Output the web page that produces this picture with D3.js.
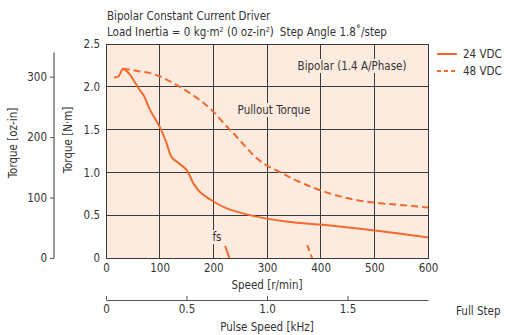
<!DOCTYPE html>
<html>
<head>
<meta charset="utf-8">
<script src="https://cdn.jsdelivr.net/npm/d3@7"></script>
<style>
  body { margin: 0; background: #fff; }
  svg text { font-family: "Liberation Sans Narrow", "Arial Narrow", "DejaVu Sans Condensed", sans-serif; fill: #333; }
</style>
</head>
<body>
<div id="chart"></div>
<script>
// Axis ticks
const speedTicks = [0, 100, 200, 300, 400, 500, 600];
const torqueTicks = [0, 0.5, 1.0, 1.5, 2.0, 2.5];
const ozTicks = [0, 100, 200, 300];
const pulseTicks = [0, 0.5, 1.0, 1.5];

// Pullout torque curves [speed r/min, torque N·m]
const vdc24 = [
  [15, 2.11], [23, 2.12], [27, 2.16], [31, 2.21], [35, 2.20], [45, 2.14],
  [51, 2.08], [57, 2.02], [63, 1.96], [70, 1.90], [82, 1.73], [101, 1.52],
  [113, 1.34], [122, 1.18], [135, 1.11], [150, 1.03], [163, 0.87], [175, 0.77],
  [200, 0.66], [225, 0.58], [262, 0.51], [299, 0.46], [343, 0.42], [399, 0.39],
  [501, 0.32], [600, 0.24]
];
const vdc48 = [
  [31, 2.21], [45, 2.20], [63, 2.18], [82, 2.16], [101, 2.12], [120, 2.06],
  [140, 1.99], [160, 1.91], [180, 1.82], [200, 1.71], [220, 1.57], [240, 1.44],
  [260, 1.30], [280, 1.17], [300, 1.08], [325, 1.00], [350, 0.92], [375, 0.85],
  [400, 0.79], [436, 0.72], [473, 0.67], [511, 0.64], [548, 0.62], [600, 0.59]
];
// Starting frequency (fs) marks
const fs24 = [[222, 0.14], [230, 0]];
const fs48 = [[375, 0.15], [384, 0]];

const ozPerNm = 141.6;

function init() {
  const w = 506, h = 335;
  const orange = "#f26a2c";
  const gridColor = "#3a3a3a";
  const bg = "#fdebdf";

  const svg = d3.select("#chart").append("svg")
    .attr("width", w).attr("height", h);

  const x = d3.scaleLinear().domain([0, 600]).range([106, 428]);
  const y = d3.scaleLinear().domain([0, 2.5]).range([258, 44]);
  const yOz = d3.scaleLinear().domain([0, 2.5 * ozPerNm]).range([258, 44]);
  const xPulse = d3.scaleLinear().domain([0, 2]).range([106, 428]); // 1 kHz = 300 r/min

  const fmt = d => d === 0 ? "0" : d.toFixed(1);

  // plot background
  svg.append("rect")
    .attr("x", x(0)).attr("y", y(2.5))
    .attr("width", x(600) - x(0)).attr("height", y(0) - y(2.5))
    .attr("fill", bg);

  // grid
  svg.append("g").selectAll("line").data(speedTicks).join("line")
    .attr("x1", d => x(d)).attr("x2", d => x(d))
    .attr("y1", y(0)).attr("y2", y(2.5))
    .attr("stroke", gridColor).attr("stroke-width", 1)
    .attr("shape-rendering", "crispEdges");
  svg.append("g").selectAll("line").data(torqueTicks).join("line")
    .attr("x1", x(0)).attr("x2", x(600))
    .attr("y1", d => y(d)).attr("y2", d => y(d))
    .attr("stroke", gridColor).attr("stroke-width", 1)
    .attr("shape-rendering", "crispEdges");

  // labels with knockouts inside the plot
  function boxedText(tx, ty, str, anchor) {
    const g = svg.append("g");
    const t = g.append("text").attr("x", tx).attr("y", ty)
      .attr("text-anchor", anchor).attr("font-size", "11.5px").text(str);
    const b = t.node().getBBox();
    g.insert("rect", "text")
      .attr("x", b.x - 2).attr("y", b.y)
      .attr("width", b.width + 4).attr("height", b.height)
      .attr("fill", bg);
  }
  boxedText(352, 70, "Bipolar (1.4 A/Phase)", "middle");
  boxedText(274, 114, "Pullout Torque", "middle");
  boxedText(217, 241, "fs", "middle");

  // curves
  const line = d3.line().x(d => x(d[0])).y(d => y(d[1])).curve(d3.curveCatmullRom);
  const straight = d3.line().x(d => x(d[0])).y(d => y(d[1]));

  svg.append("path").datum(vdc48).attr("d", line)
    .attr("fill", "none").attr("stroke", orange).attr("stroke-width", 2)
    .attr("stroke-dasharray", "7,4");
  svg.append("path").datum(vdc24).attr("d", line)
    .attr("fill", "none").attr("stroke", orange).attr("stroke-width", 2);
  svg.append("path").datum(fs24).attr("d", straight)
    .attr("fill", "none").attr("stroke", orange).attr("stroke-width", 2);
  svg.append("path").datum(fs48).attr("d", straight)
    .attr("fill", "none").attr("stroke", orange).attr("stroke-width", 2)
    .attr("stroke-dasharray", "6,4");

  // N·m axis (labels only)
  const yAxis = svg.append("g").attr("transform", `translate(${x(0)},0)`)
    .call(d3.axisLeft(y).tickValues(torqueTicks).tickFormat(fmt).tickSize(0).tickPadding(6));
  yAxis.select(".domain").remove();
  yAxis.selectAll("text").attr("font-size", "11.5px").attr("font-family", null);

  // speed axis (labels only)
  const xAxis = svg.append("g").attr("transform", `translate(0,${y(0)})`)
    .call(d3.axisBottom(x).tickValues(speedTicks).tickFormat(d3.format("d")).tickSize(0).tickPadding(6));
  xAxis.select(".domain").remove();
  xAxis.selectAll("text").attr("font-size", "11.5px").attr("font-family", null);

  // plot border
  svg.append("rect")
    .attr("x", x(0)).attr("y", y(2.5))
    .attr("width", x(600) - x(0)).attr("height", y(0) - y(2.5))
    .attr("fill", "none").attr("stroke", gridColor).attr("stroke-width", 1)
    .attr("shape-rendering", "crispEdges");

  // oz-in axis
  const ozAxis = svg.append("g").attr("transform", "translate(54,0)")
    .call(d3.axisLeft(yOz).tickValues(ozTicks).tickSize(4).tickPadding(3));
  ozAxis.select(".domain").remove();
  ozAxis.selectAll("line").attr("stroke", "#555");
  ozAxis.selectAll("text").attr("font-size", "11.5px").attr("font-family", null);
  svg.append("line")
    .attr("x1", 54).attr("x2", 54).attr("y1", yOz(0)).attr("y2", yOz(340))
    .attr("stroke", "#555").attr("stroke-width", 1.2);

  // pulse speed axis
  const pAxis = svg.append("g").attr("transform", "translate(0,300)")
    .call(d3.axisBottom(xPulse).tickValues(pulseTicks).tickFormat(fmt)
      .tickSizeInner(-4).tickSizeOuter(0).tickPadding(5));
  pAxis.select(".domain").attr("stroke", "#555").attr("stroke-width", 1.2);
  pAxis.selectAll("line").attr("stroke", "#555");
  pAxis.selectAll("text").attr("font-size", "11.5px").attr("font-family", null);
  svg.append("text").attr("x", 456).attr("y", 315)
    .attr("font-size", "11.5px").text("Full Step");

  // axis titles
  svg.append("text").attr("x", 267).attr("y", 289).attr("text-anchor", "middle")
    .attr("font-size", "11.5px").text("Speed [r/min]");
  svg.append("text").attr("x", 267).attr("y", 331).attr("text-anchor", "middle")
    .attr("font-size", "11.5px").text("Pulse Speed [kHz]");
  svg.append("text").attr("transform", "translate(17,143) rotate(-90)")
    .attr("text-anchor", "middle").attr("font-size", "11.5px").text("Torque [oz-in]");
  svg.append("text").attr("transform", "translate(72,140) rotate(-90)")
    .attr("text-anchor", "middle").attr("font-size", "11.5px").text("Torque [N·m]");

  // header
  svg.append("text").attr("x", 107).attr("y", 20)
    .attr("font-size", "11.5px").text("Bipolar Constant Current Driver");
  const t2 = svg.append("text").attr("x", 107).attr("y", 36).attr("font-size", "11.5px");
  t2.append("tspan").text("Load Inertia = 0 kg·m");
  t2.append("tspan").attr("font-size", "7px").attr("dy", -4).text("2");
  t2.append("tspan").attr("dy", 4).text(" (0 oz-in");
  t2.append("tspan").attr("font-size", "7px").attr("dy", -4).text("2");
  t2.append("tspan").attr("dy", 4).text(")");
  t2.append("tspan").attr("dx", 6).text("Step Angle 1.8˚/step");

  // legend
  const legend = [
    { label: "24 VDC", dash: null, yy: 54 },
    { label: "48 VDC", dash: "4,3", yy: 71 }
  ];
  legend.forEach(l => {
    svg.append("line").attr("x1", 437).attr("x2", 457)
      .attr("y1", l.yy).attr("y2", l.yy)
      .attr("stroke", orange).attr("stroke-width", 2)
      .attr("stroke-dasharray", l.dash);
    svg.append("text").attr("x", 463).attr("y", l.yy).attr("dy", "0.35em")
      .attr("font-size", "11.5px").text(l.label);
  });
}

window.onload = init;
</script>
</body>
</html>
